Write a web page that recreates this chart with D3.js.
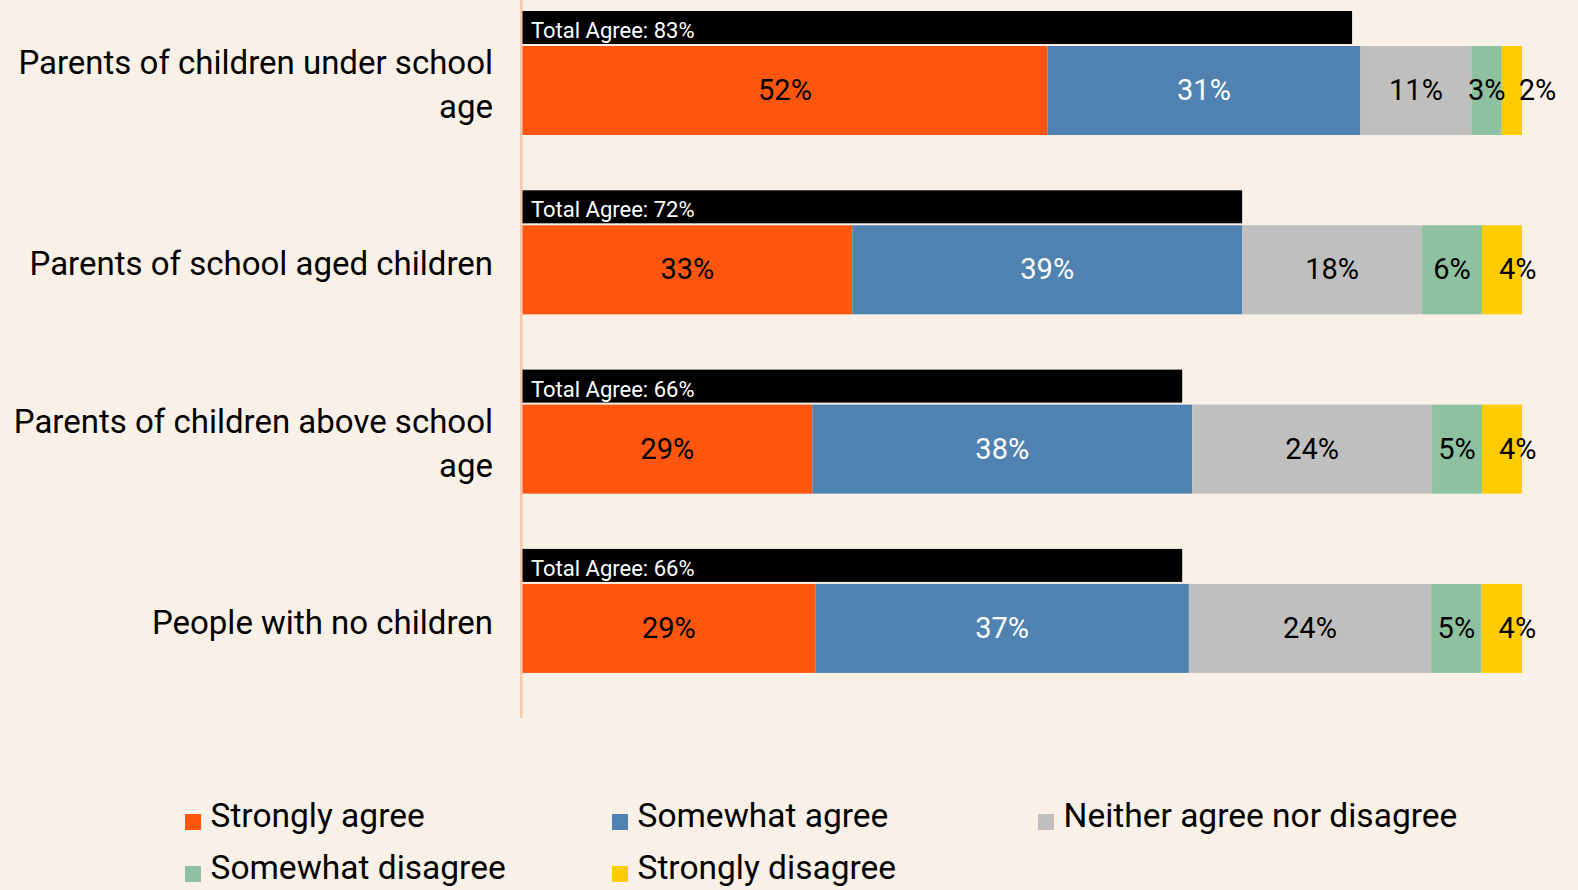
<!DOCTYPE html>
<html>
<head>
<meta charset="utf-8">
<script src="https://cdn.jsdelivr.net/npm/d3@7"></script>
<style>
  html, body { margin: 0; padding: 0; background: #f9f1e7; }
  svg { display: block; }
  text { font-family: Roboto, "Liberation Sans", Arial, sans-serif; }
</style>
</head>
<body>
<svg id="chart" width="1578" height="890"></svg>
<script>
// Survey responses by parental status (percent of respondents)
const categories = [
  "Parents of children under school age",
  "Parents of school aged children",
  "Parents of children above school age",
  "People with no children"
];
const responses = ["Strongly agree", "Somewhat agree", "Neither agree nor disagree", "Somewhat disagree", "Strongly disagree"];
const stronglyAgree    = [52, 33, 29, 29];
const somewhatAgree    = [31, 39, 38, 37];
const neitherAgree     = [11, 18, 24, 24];
const somewhatDisagree = [3, 6, 5, 5];
const stronglyDisagree = [2, 4, 4, 4];
const totalAgree       = [83, 72, 66, 66];

const responseColors = ["#ff560f", "#4f82b1", "#bfbfbf", "#8ec1a0", "#ffcc00"];
const labelColors    = ["#000000", "#ffffff", "#000000", "#000000", "#000000"];

const seriesValues = [stronglyAgree, somewhatAgree, neitherAgree, somewhatDisagree, stronglyDisagree];
const rows = categories.map((c, i) => {
  const r = { category: c, total: totalAgree[i] };
  responses.forEach((k, j) => { r[k] = seriesValues[j][i]; });
  return r;
});

const svg = d3.select("#chart");

const x = d3.scaleLinear().domain([0, 1]).range([522.5, 1522]);
const y = d3.scaleBand().domain(categories).range([11, 673]).paddingInner(0.308).paddingOuter(0).align(0);

const totalH = 33, gap = 2, stackH = 89;

const stack = d3.stack().keys(responses).offset(d3.stackOffsetExpand);
const stacked = stack(rows);

const color = d3.scaleOrdinal().domain(responses).range(responseColors);
const textColor = d3.scaleOrdinal().domain(responses).range(labelColors);

// vertical baseline axis
svg.append("line")
  .attr("x1", 521.3).attr("x2", 521.3)
  .attr("y1", 0).attr("y2", 718)
  .attr("stroke", "#f8c6ad").attr("stroke-width", 2.5);

// "Total Agree" bars
const totals = svg.append("g").selectAll("g").data(rows).join("g");
totals.append("rect")
  .attr("x", x(0))
  .attr("y", d => y(d.category))
  .attr("width", d => x(d.total / 100) - x(0))
  .attr("height", totalH)
  .attr("fill", "#000");
totals.append("text")
  .attr("x", x(0) + 8.5)
  .attr("y", d => y(d.category) + totalH - 6)
  .attr("fill", "#fff")
  .attr("font-size", 22)
  .text(d => `Total Agree: ${d.total}%`);

// stacked response bars
const layers = svg.append("g").selectAll("g").data(stacked).join("g")
  .attr("fill", d => color(d.key));
layers.selectAll("rect").data(d => d).join("rect")
  .attr("x", d => x(d[0]))
  .attr("y", d => y(d.data.category) + totalH + gap)
  .attr("width", d => x(d[1]) - x(d[0]))
  .attr("height", stackH);

// segment value labels
const lastKey = responses[responses.length - 1];
stacked.forEach(layer => {
  svg.append("g").selectAll("text").data(layer).join("text")
    .attr("x", d => layer.key === lastKey ? x(d[0]) + 17 : (x(d[0]) + x(d[1])) / 2)
    .attr("text-anchor", layer.key === lastKey ? "start" : "middle")
    .attr("y", d => y(d.data.category) + totalH + gap + stackH / 2 + 9.5)
    .attr("font-size", 29)
    .attr("fill", textColor(layer.key))
    .text(d => `${d.data[layer.key]}%`);
});

// category labels, wrapped to fit left margin
const labelRight = 493, maxLabelW = 490, lineH = 44;
categories.forEach(c => {
  const center = y(c) + totalH + gap + stackH / 2 - 6;
  const t = svg.append("text")
    .attr("text-anchor", "end")
    .attr("font-size", 33)
    .attr("fill", "#000");
  const words = c.split(" ");
  const lines = [];
  let line = [];
  const probe = t.append("tspan");
  words.forEach(w => {
    line.push(w);
    probe.text(line.join(" "));
    if (probe.node().getComputedTextLength() > maxLabelW && line.length > 1) {
      line.pop();
      lines.push(line.join(" "));
      line = [w];
    }
  });
  lines.push(line.join(" "));
  probe.remove();
  const first = center - (lines.length - 1) * lineH / 2 + 11.5;
  lines.forEach((l, i) => {
    t.append("tspan").attr("x", labelRight).attr("y", first + i * lineH).text(l);
  });
});

// legend
const legendCols = [185, 612, 1038], legendRows = [827, 879];
const legend = svg.append("g").selectAll("g").data(responses).join("g")
  .attr("transform", (d, i) => `translate(${legendCols[i % 3]},${legendRows[Math.floor(i / 3)]})`);
legend.append("rect")
  .attr("x", 0).attr("y", -13).attr("width", 16).attr("height", 16)
  .attr("fill", d => color(d));
legend.append("text")
  .attr("x", 25.5).attr("y", 0)
  .attr("font-size", 33.5)
  .attr("fill", "#000")
  .text(d => d);
</script>
</body>
</html>
